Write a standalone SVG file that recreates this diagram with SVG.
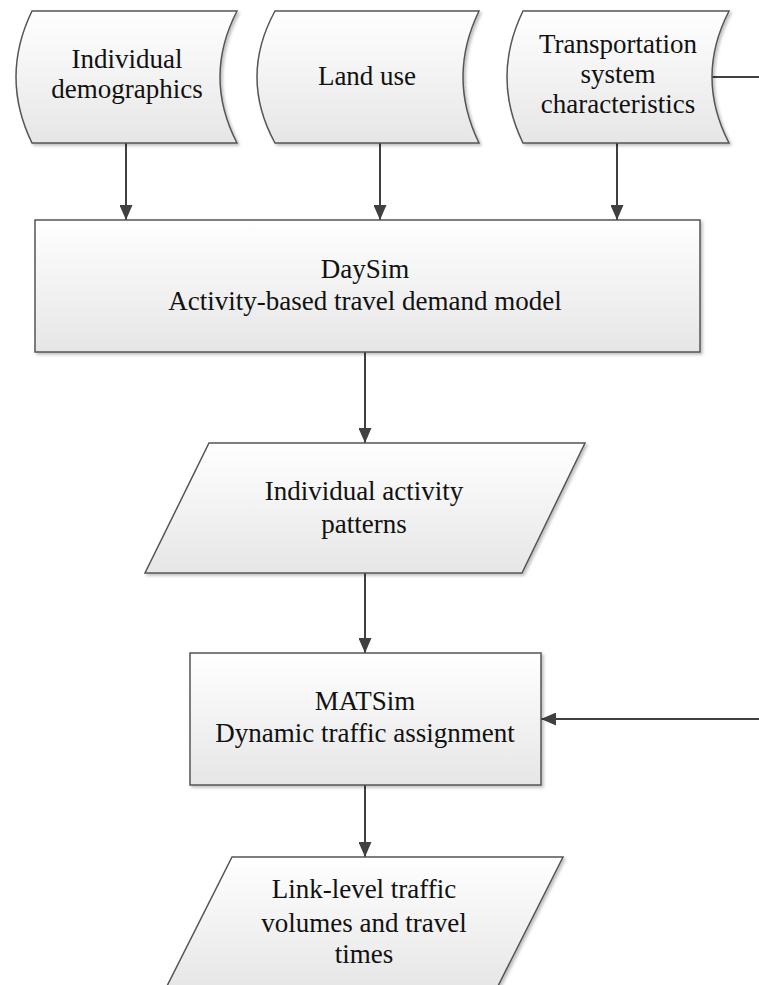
<svg xmlns="http://www.w3.org/2000/svg" width="759" height="985" viewBox="0 0 759 985">
<style>
.shape{fill:url(#g);stroke:#555555;stroke-width:1.5;filter:url(#sh)}
.t{font-family:'Liberation Serif',Tinos,'Times New Roman','DejaVu Serif',serif;font-size:27px;fill:#111;text-anchor:middle}
.c{fill:none;stroke:#404040;stroke-width:2}
</style>
<defs>
<linearGradient id="g" x1="0" y1="0" x2="0" y2="1">
<stop offset="0" stop-color="#ffffff"/>
<stop offset="1" stop-color="#e6e6e6"/>
</linearGradient>
<filter id="sh" x="-10%" y="-10%" width="125%" height="125%">
<feDropShadow dx="2" dy="2" stdDeviation="1.5" flood-color="#000" flood-opacity="0.25"/>
</filter>
<marker id="ah" viewBox="0 0 15 13" refX="15" refY="6.5" markerWidth="15" markerHeight="13" markerUnits="userSpaceOnUse" orient="auto">
<path d="M0,0 L15,6.5 L0,13 Z" fill="#404040"/>
</marker>
</defs>
<g id="connectors">
<line class="c" x1="126" y1="143" x2="126" y2="220" marker-end="url(#ah)"/>
<line class="c" x1="380" y1="143" x2="380" y2="220" marker-end="url(#ah)"/>
<line class="c" x1="617" y1="143" x2="617" y2="220" marker-end="url(#ah)"/>
<line class="c" x1="365" y1="352" x2="365" y2="443" marker-end="url(#ah)"/>
<line class="c" x1="365" y1="573" x2="365" y2="653" marker-end="url(#ah)"/>
<line class="c" x1="365" y1="785" x2="365" y2="857" marker-end="url(#ah)"/>
<path class="c" d="M712,77 H780 V719 H541" marker-end="url(#ah)"/>
</g>
<g id="demographics">
<path class="shape" d="M32,11 H237 Q203,77 237,143 H32 Q0,77 32,11 Z"/>
<text class="t" x="127" y="68">Individual</text>
<text class="t" x="127" y="98">demographics</text>
</g>
<g id="landuse">
<path class="shape" d="M275,11 H479 Q447,77 479,143 H275 Q239,77 275,11 Z"/>
<text class="t" x="367" y="85">Land use</text>
</g>
<g id="transport">
<path class="shape" d="M523,11 H729 Q695,77 729,143 H523 Q491,77 523,11 Z"/>
<text class="t" x="618" y="53">Transportation</text>
<text class="t" x="618" y="83">system</text>
<text class="t" x="618" y="113">characteristics</text>
</g>
<g id="daysim">
<rect class="shape" x="35" y="220" width="665" height="132"/>
<text class="t" x="365" y="278">DaySim</text>
<text class="t" x="365" y="310">Activity-based travel demand model</text>
</g>
<g id="patterns">
<path class="shape" d="M209,443 H585 L522,573 H145 Z"/>
<text class="t" x="364" y="500">Individual activity</text>
<text class="t" x="364" y="533">patterns</text>
</g>
<g id="matsim">
<rect class="shape" x="190" y="653" width="351" height="132"/>
<text class="t" x="365" y="710">MATSim</text>
<text class="t" x="365" y="742">Dynamic traffic assignment</text>
</g>
<g id="volumes">
<path class="shape" d="M232,857 H563 L496,990 H165 Z"/>
<text class="t" x="364" y="898">Link-level traffic</text>
<text class="t" x="364" y="932">volumes and travel</text>
<text class="t" x="364" y="963">times</text>
</g>
</svg>
